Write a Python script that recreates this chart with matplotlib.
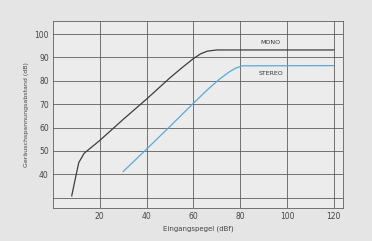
import matplotlib.pyplot as plt

# Kurven
mono_x = [8, 9.5, 11, 13.3, 20, 30, 40, 50, 55, 60, 63, 66, 70, 120]
mono_y = [30.8, 38, 45, 49, 54.5, 63.5, 72.2, 81.3, 85.5, 89.5, 91.5, 92.7, 93.2, 93.2]
stereo_x = [30, 40, 50, 60, 66, 71, 75, 78, 81, 120]
stereo_y = [41.2, 50.8, 60.5, 70.4, 76.2, 80.6, 83.6, 85.4, 86.4, 86.5]

x_ticks = [20, 40, 60, 80, 100, 120]
y_ticks = [40, 50, 60, 70, 80, 90, 100]

fig = plt.figure(figsize=(3.72, 2.41), dpi=100, facecolor='#e5e5e5')
ax = fig.add_axes([0.1425, 0.137, 0.78, 0.776])
ax.set_facecolor('#ececec')

ax.plot(mono_x, mono_y, color='#3d3d3d', linewidth=0.9, zorder=3)
ax.plot(stereo_x, stereo_y, color='#5aa8d8', linewidth=0.9, zorder=3)

ax.text(93, 96.2, 'MONO', fontsize=4.5, color='#333333', ha='center', va='center')
ax.text(93, 83.3, 'STEREO', fontsize=4.5, color='#333333', ha='center', va='center')

ax.set_xlim(0, 124)
ax.set_ylim(25.6, 105.6)
ax.set_xticks(x_ticks)
ax.set_yticks(y_ticks)
ax.set_yticks([30], minor=True)
ax.tick_params(which='both', length=0, labelsize=5.5, labelcolor='#444444', pad=3)
ax.grid(True, which='both', color='#5e5e5e', linewidth=0.6)
for s in ax.spines.values():
    s.set_color('#5e5e5e')
    s.set_linewidth(0.6)

ax.set_xlabel('Eingangspegel (dBf)', fontsize=5, color='#444444', labelpad=3)
ax.set_ylabel('Geräuschspannungsabstand (dB)', fontsize=4.5, color='#444444', labelpad=4)

fig.savefig('out.png', dpi=100, facecolor=fig.get_facecolor())
